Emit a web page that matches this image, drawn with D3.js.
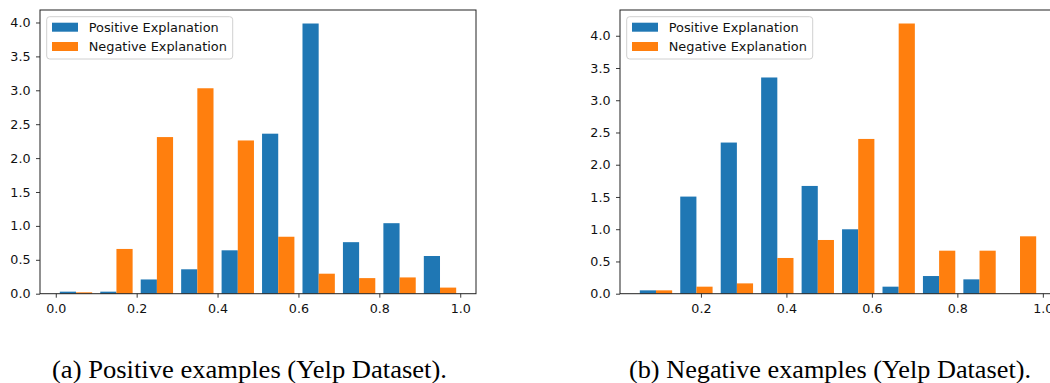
<!DOCTYPE html>
<html>
<head>
<meta charset="utf-8">
<script src="https://cdn.jsdelivr.net/npm/d3@7"></script>
<style>
  html, body { margin: 0; padding: 0; background: #fff; }
  svg { display: block; }
</style>
</head>
<body>
<svg id="chart" width="1050" height="383"></svg>
<script>
// histogram bin edges
const leftEdges = [0.0, 0.1, 0.2, 0.3, 0.4, 0.5, 0.6, 0.7, 0.8, 0.9, 1.0];
const rightEdges = [0.0475, 0.1421, 0.2368, 0.3314, 0.4261, 0.5207, 0.6154, 0.7100, 0.8046, 0.8993, 0.9939];

// (a) positive examples - density per bin
const leftPositive = [0.03, 0.03, 0.21, 0.36, 0.64, 2.36, 3.985, 0.76, 1.04, 0.556];
const leftNegative = [0.02, 0.66, 2.31, 3.03, 2.26, 0.84, 0.295, 0.23, 0.24, 0.09];

// (b) negative examples
const rightPositive = [0.052, 1.506, 2.344, 3.353, 1.671, 0.999, 0.109, 0.274, 0.2225, 0];
const rightNegative = [0.052, 0.109, 0.16, 0.554, 0.833, 2.40, 4.19, 0.667, 0.667, 0.89];

const seriesNames = ["Positive Explanation", "Negative Explanation"];
const colors = ["#1f77b4", "#ff7f0e"];
const yTicks = [0, 0.5, 1, 1.5, 2, 2.5, 3, 3.5, 4];
const leftXTicks = [0, 0.2, 0.4, 0.6, 0.8, 1.0];
const rightXTicks = [0.2, 0.4, 0.6, 0.8, 1.0];
const captions = ["(a) Positive examples (Yelp Dataset).", "(b) Negative examples (Yelp Dataset)."];

const svg = d3.select("#chart");
const plotTop = 10, plotBottom = 293.7, panelW = 436;
const font = "'DejaVu Sans', sans-serif";

function panel(left, edges, pos, neg, xTicks) {
  const g = svg.append("g");
  const w = edges[1] - edges[0];
  const lo = edges[0] + 0.1 * w, hi = edges[edges.length - 1] - 0.1 * w;
  const m = 0.05 * (hi - lo);
  const x = d3.scaleLinear([lo - m, hi + m], [left, left + panelW]);
  const ymax = d3.max(pos.concat(neg)) * 1.05;
  const y = d3.scaleLinear([0, ymax], [plotBottom, plotTop]);

  [pos, neg].forEach((vals, s) => {
    g.append("g").selectAll("rect")
      .data(vals.map((v, i) => ({v, x0: edges[i] + (0.1 + 0.4 * s) * w})).filter(d => d.v > 0))
      .join("rect")
      .attr("x", d => x(d.x0))
      .attr("width", d => x(d.x0 + 0.4 * w) - x(d.x0))
      .attr("y", d => y(d.v))
      .attr("height", d => y(0) - y(d.v))
      .attr("fill", colors[s]);
  });

  const xa = g.append("g")
    .attr("transform", `translate(0,${plotBottom})`)
    .call(d3.axisBottom(x).tickValues(xTicks).tickFormat(d3.format(".1f")).tickSize(4).tickPadding(6));
  const ya = g.append("g")
    .attr("transform", `translate(${left},0)`)
    .call(d3.axisLeft(y).tickValues(yTicks).tickFormat(d3.format(".1f")).tickSize(4).tickPadding(5.5));
  [xa, ya].forEach(a => {
    a.select(".domain").remove();
    a.selectAll("line").attr("stroke", "#222").attr("stroke-width", 0.9);
    a.selectAll("text").attr("font-family", font).attr("font-size", 12.7).attr("fill", "#111");
  });

  g.append("rect")
    .attr("x", left).attr("y", plotTop)
    .attr("width", panelW).attr("height", plotBottom - plotTop)
    .attr("fill", "none").attr("stroke", "#222").attr("stroke-width", 1);

  // legend
  const lg = g.append("g").attr("transform", `translate(${left + 6.7},16.7)`);
  lg.append("rect")
    .attr("width", 186).attr("height", 42.3).attr("rx", 3)
    .attr("fill", "#fff").attr("fill-opacity", 0.8)
    .attr("stroke", "#d0d0d0").attr("stroke-width", 1);
  seriesNames.forEach((name, i) => {
    const cy = 10.5 + i * 19.3;
    lg.append("rect").attr("x", 5.3).attr("y", cy - 4.5).attr("width", 26).attr("height", 9).attr("fill", colors[i]);
    lg.append("text").attr("x", 42).attr("y", cy + 4.6)
      .attr("font-family", font).attr("font-size", 12.9).attr("fill", "#111")
      .text(name);
  });
}

panel(40, leftEdges, leftPositive, leftNegative, leftXTicks);
panel(620, rightEdges, rightPositive, rightNegative, rightXTicks);

svg.selectAll("text.caption")
  .data(captions)
  .join("text")
  .attr("class", "caption")
  .attr("x", (d, i) => i === 0 ? 249.5 : 830)
  .attr("y", 377.5)
  .attr("text-anchor", "middle")
  .attr("font-family", "'Liberation Serif', 'Times New Roman', serif")
  .attr("font-size", 25)
  .attr("textLength", (d, i) => i === 0 ? 395 : 402)
  .attr("lengthAdjust", "spacingAndGlyphs")
  .attr("fill", "#000")
  .text(d => d);
</script>
</body>
</html>
